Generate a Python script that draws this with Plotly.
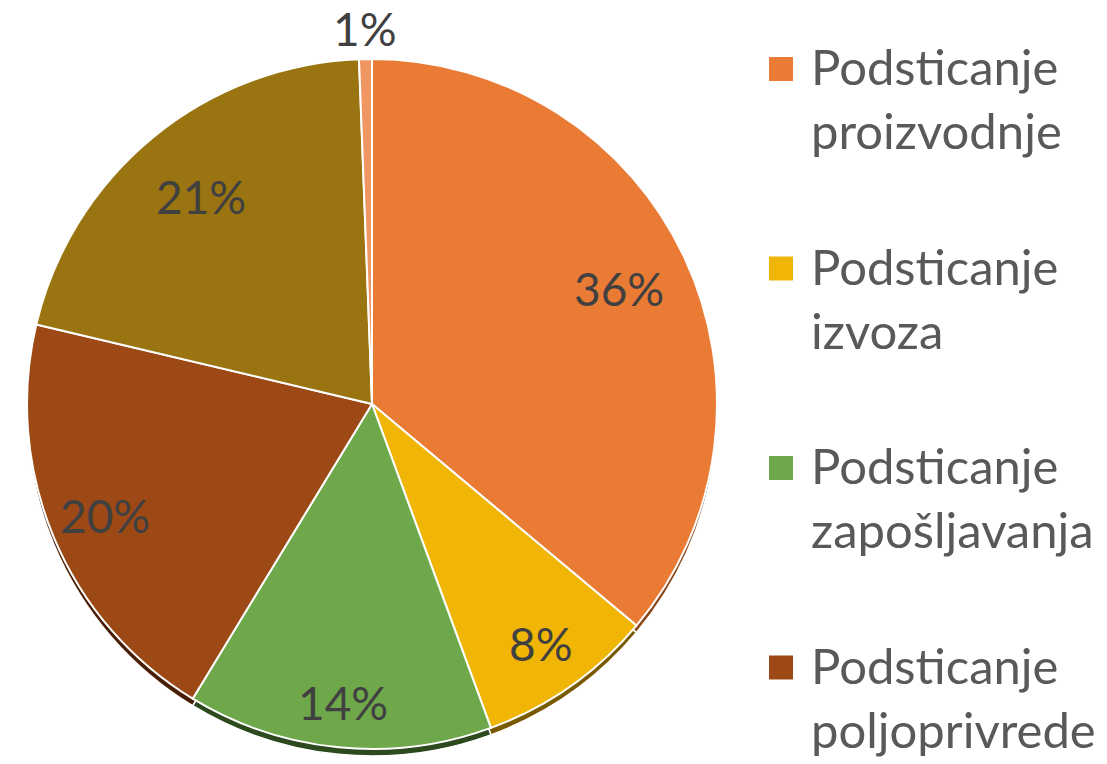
import math
import plotly.graph_objects as go

labels = ["Podsticanje<br>proizvodnje", "Podsticanje<br>izvoza", "Podsticanje<br>zapošljavanja",
          "Podsticanje<br>poljoprivrede", "Ostali<br>podsticaji", "Ostalo"]
values = [36.1, 8.3, 14.3, 20.0, 20.7, 0.6]
colors = ["#E97B35", "#F0B505", "#6FA84A", "#9D4915", "#997410", "#EF9662"]
rim_colors = ["#8A4515", "#7A5A00", "#2D4A1E", "#4A1E05", "#4D3A08", "#8A4F30"]
# radial placement of percentage labels (fraction of radius)
label_radius = [0.79, 0.85, 0.87, 0.84, 0.78, 1.09]

W, H = 1107, 764
cx, cy = 372, 404          # pie centre in pixels (from top-left)
r = 345
rim = 7

def dom(cx_px, cy_px):
    return dict(x=[(cx_px - r) / W, (cx_px + r) / W],
                y=[(H - cy_px - r) / H, (H - cy_px + r) / H])

fig = go.Figure()
# darker copy underneath to mimic the 3-D rim
fig.add_trace(go.Pie(
    labels=labels, values=values, sort=False, direction="clockwise", rotation=0,
    marker=dict(colors=rim_colors, line=dict(color="white", width=1.5)),
    textinfo="none", hoverinfo="skip", domain=dom(cx, cy + rim), showlegend=False,
))
fig.add_trace(go.Pie(
    labels=labels, values=values, sort=False, direction="clockwise", rotation=0,
    marker=dict(colors=colors, line=dict(color="white", width=2)),
    textinfo="none", domain=dom(cx, cy), showlegend=False,
))

total = sum(values)
cum = 0.0
for v, f in zip(values, label_radius):
    mid = (cum + v / 2) / total * 2 * math.pi
    cum += v
    px = cx + f * r * math.sin(mid)
    py = cy - f * r * math.cos(mid)
    fig.add_annotation(x=px / W, y=(H - py) / H, xref="paper", yref="paper",
                       text=f"{v / total:.0%}", showarrow=False,
                       font=dict(family="Lato", size=46, color="#404040"),
                       xanchor="center", yanchor="middle")

# legend (manual, large squares and two-line entries)
sq = 24
leg_x, first_y, step = 769, 69, 199.5
for i, (lab, col) in enumerate(zip(labels, colors)):
    yc = first_y + i * step
    if yc - sq / 2 > H:
        break
    fig.add_shape(type="rect", xref="paper", yref="paper",
                  x0=leg_x / W, x1=(leg_x + sq) / W,
                  y0=(H - yc - sq / 2) / H, y1=(H - yc + sq / 2) / H,
                  fillcolor=col, line=dict(width=0))
    fig.add_annotation(x=(leg_x + 40) / W, y=(H - (yc + 29)) / H, xref="paper", yref="paper",
                       text=lab, showarrow=False, align="left",
                       font=dict(family="Lato", size=49, color="#595959"),
                       xanchor="left", yanchor="middle")

fig.update_layout(
    width=W, height=H, margin=dict(l=0, r=0, t=0, b=0, autoexpand=False),
    paper_bgcolor="white", plot_bgcolor="white", showlegend=False,
)
fig.write_html("out.html", config={"displayModeBar": False},
               post_script="document.body.style.margin='0px';")
